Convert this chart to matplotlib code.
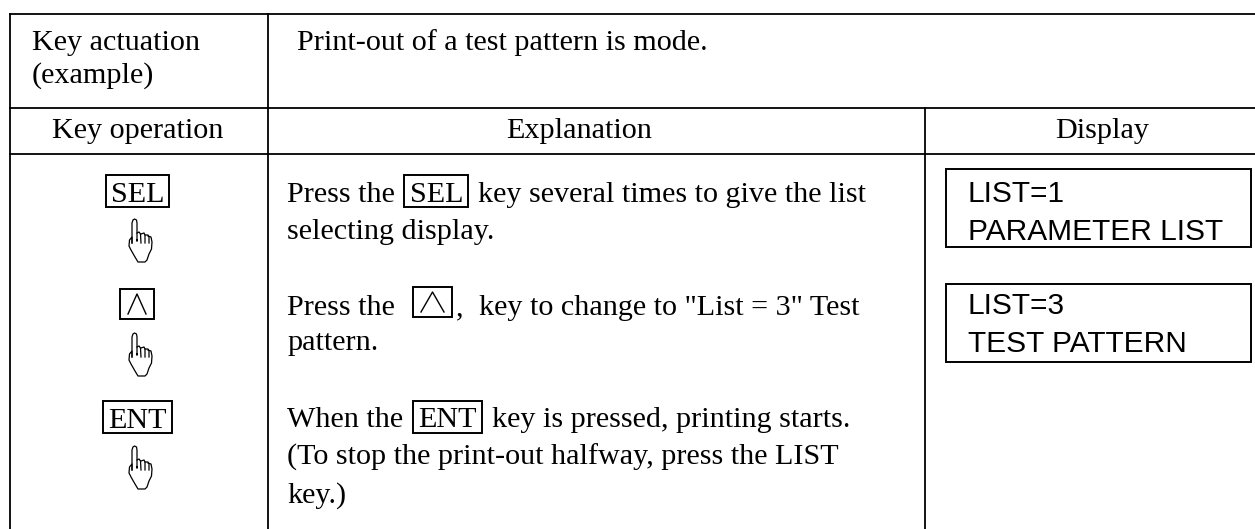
import matplotlib
matplotlib.use('Agg')
import matplotlib.pyplot as plt
from matplotlib.patches import Rectangle

# Tresc tabeli
header_left = ['Key actuation', '(example)']
header_right = 'Print-out of a test pattern is mode.'
col_titles = ['Key operation', 'Explanation', 'Display']
key_names = ['SEL', 'ENT']
display_one = ['LIST=1', 'PARAMETER LIST']
display_two = ['LIST=3', 'TEST PATTERN']

SERIF = 'Liberation Serif'
SANS = 'Liberation Sans'
FS = 21.7


def key_box(ax, x0, x1, y0, y1, lw=1.4):
    ax.add_patch(Rectangle((x0, y0), x1 - x0, y1 - y0, fill=False, ec='black', lw=lw))


def caret(ax, x0, x1, y0, y1):
    xm = (x0 + x1) / 2
    ax.plot([x0 + 8, xm, x1 - 8], [y1 - 5, y0 + 5, y1 - 5], color='black', lw=1.0)


def hand(ax, x0, top):
    # ikona dloni, kontur i palce
    parts = [
        ([0, 0, 1, 2.5, 4.5, 5, 5, 5], [24, 4, 1, 0, 1, 4, 22, 21]),
        ([5, 7, 8.5, 9], [14, 13, 15, 24]),
        ([9, 12, 13, 13], [15, 14, 16, 24]),
        ([13, 16, 17, 17], [16, 16, 18, 24]),
        ([16, 19, 20, 19.5, 17, 15, 13, 6, 3, -1, -3, -2.5, 0, 0],
         [17, 18, 23, 30, 35, 41, 43, 43, 38, 31, 27, 21, 18, 24]),
    ]
    for xs, ys in parts:
        ax.plot([x0 + x for x in xs], [top + y for y in ys], color='black', lw=0.9)


def body(ax, x, y, s, family=SERIF, size=FS):
    ax.text(x, y, s, family=family, fontsize=size, color='black', va='baseline', ha='left')


def centered(ax, x, y, s):
    ax.text(x, y, s, family=SERIF, fontsize=FS, color='black', va='baseline', ha='center')


fig = plt.figure(figsize=(12.55, 5.29), dpi=100)
ax = fig.add_axes([0, 0, 1, 1])
ax.set_xlim(0, 1255)
ax.set_ylim(529, 0)
ax.axis('off')

# Linie tabeli
line_w = 1.3
for y in [13.5, 108, 154]:
    ax.plot([10, 1255], [y, y], color='black', lw=line_w)
ax.plot([10, 10], [13.5, 529], color='black', lw=line_w)
ax.plot([268, 268], [13.5, 529], color='black', lw=line_w)
ax.plot([925, 925], [108, 529], color='black', lw=line_w)

# Naglowki
body(ax, 32, 50, header_left[0])
body(ax, 32, 83, header_left[1])
body(ax, 297, 50, header_right)
centered(ax, 137.5, 138, col_titles[0])
centered(ax, 579, 138, col_titles[1])
centered(ax, 1102, 138, col_titles[2])

# Klawisze w lewej kolumnie
centered(ax, 137.5, 202, key_names[0])
key_box(ax, 106, 169, 175, 207)
hand(ax, 132, 219)
key_box(ax, 120, 154, 289, 319)
caret(ax, 120, 154, 289, 319)
hand(ax, 132, 333)
centered(ax, 137.5, 428, key_names[1])
key_box(ax, 103, 172, 401, 433)
hand(ax, 132, 446)

# Objasnienia
body(ax, 287, 202, 'Press the')
body(ax, 410, 202, key_names[0])
key_box(ax, 404, 468, 175, 207)
body(ax, 478, 202, 'key several times to give the list')
body(ax, 287, 239, 'selecting display.')
body(ax, 287, 315, 'Press the')
key_box(ax, 413, 452, 287, 317)
caret(ax, 413, 452, 287, 317)
body(ax, 456, 315, ',')
body(ax, 479, 315, 'key to change to "List = 3" Test')
body(ax, 287, 350, 'pattern.')
body(ax, 287, 427, 'When the')
body(ax, 418, 427, key_names[1])
key_box(ax, 413, 482, 401, 433)
body(ax, 492, 427, 'key is pressed, printing starts.')
body(ax, 287, 465, '(To stop the print-out halfway, press the LIST')
body(ax, 287, 503, 'key.)')

# Okna wyswietlacza
key_box(ax, 946, 1251, 169, 247)
body(ax, 968, 202, display_one[0], SANS, 21.5)
body(ax, 968, 240, display_one[1], SANS, 21.5)
key_box(ax, 946, 1251, 284, 362)
body(ax, 968, 314, display_two[0], SANS, 21.5)
body(ax, 968, 352, display_two[1], SANS, 21.5)

fig.savefig('out.png', dpi=100)
